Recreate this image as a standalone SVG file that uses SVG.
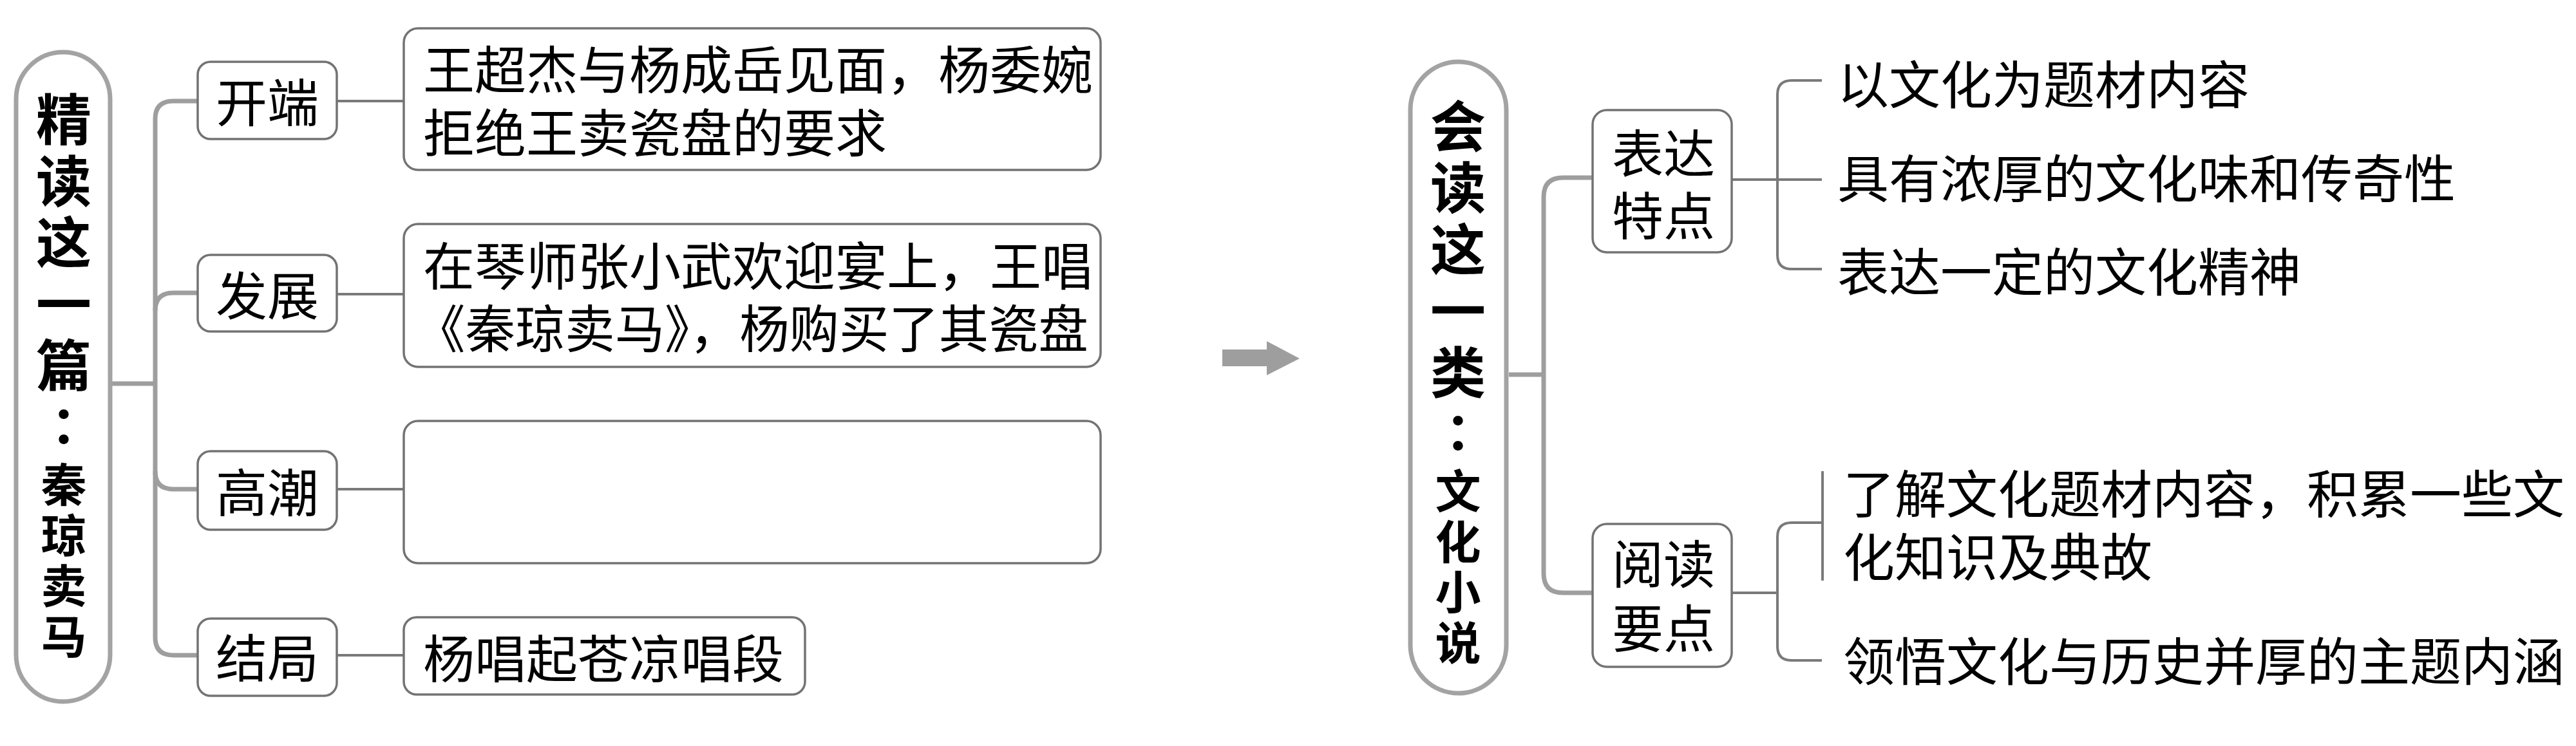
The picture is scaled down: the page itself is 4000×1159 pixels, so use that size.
<svg xmlns="http://www.w3.org/2000/svg" width="4000" height="1159" viewBox="0 0 4000 1159">
<style>
.bg{fill:#ffffff}
.pill{fill:#ffffff;stroke:#a3a3a3;stroke-width:7}
.box{fill:#ffffff;stroke:#737373;stroke-width:3.5}
.thick{fill:none;stroke:#9e9e9e;stroke-width:7}
.thin{fill:none;stroke:#7a7a7a;stroke-width:4}
.t{font-family:"Liberation Sans","Noto Sans CJK SC",sans-serif;font-size:80px;fill:#000000}
.h{font-family:"Liberation Sans","Noto Sans CJK SC",sans-serif;font-size:86px;font-weight:bold;fill:#000000;text-anchor:middle}
.hs{font-size:71px}
.hc{font-family:"Liberation Sans","Noto Sans CJK TC",sans-serif;font-size:80px}
.c{text-anchor:middle}
.arrow{fill:#9e9e9e}
</style>
<rect class="bg" x="0" y="0" width="4000" height="1159"/>

<g id="connectors">
  <path class="thick" d="M174,596 H241"/>
  <path class="thick" d="M241,185 V990"/>
  <path class="thick" d="M241,185 Q241,157 269,157 H307"/>
  <path class="thick" d="M241,483 Q241,455 269,455 H307"/>
  <path class="thick" d="M241,732 Q241,760 269,760 H307"/>
  <path class="thick" d="M241,990 Q241,1018 269,1018 H307"/>
  <path class="thin" d="M523,157 H627"/>
  <path class="thin" d="M523,457 H627"/>
  <path class="thin" d="M523,760 H627"/>
  <path class="thin" d="M523,1018 H627"/>
  <path class="thick" d="M2343,582 H2397"/>
  <path class="thick" d="M2397,306 V891"/>
  <path class="thick" d="M2397,306 Q2397,276 2427,276 H2473"/>
  <path class="thick" d="M2397,891 Q2397,921 2427,921 H2473"/>
  <path class="thin" d="M2689,279 H2829"/>
  <path class="thin" d="M2829,125 H2782 Q2760,125 2760,147 V396 Q2760,418 2782,418 H2829"/>
  <path class="thin" d="M2689,921 H2760"/>
  <path class="thin" d="M2829,812 H2782 Q2760,812 2760,834 V1004 Q2760,1026 2782,1026 H2829"/>
  <path class="thin" d="M2830,732 V902"/>
</g>

<g id="arrow">
  <polygon class="arrow" points="1898,543 1967,543 1967,530 2018,557 1967,583 1967,569 1898,569"/>
</g>

<g id="title-left">
  <rect class="pill" x="25" y="81" width="146" height="1009" rx="73" ry="73"/>
  <text class="h"><tspan x="99" y="218">精</tspan><tspan x="99" y="314">读</tspan><tspan x="99" y="409">这</tspan><tspan x="99" y="505">一</tspan><tspan x="99" y="600">篇</tspan><tspan class="hc" x="99" y="692">：</tspan><tspan class="hs" x="99" y="779">秦</tspan><tspan class="hs" x="99" y="858">琼</tspan><tspan class="hs" x="99" y="936">卖</tspan><tspan class="hs" x="99" y="1015">马</tspan></text>
</g>

<g id="node-kaiduan">
  <rect class="box" x="307" y="96" width="216" height="120" rx="20"/>
  <text class="t c" x="415" y="189">开端</text>
</g>
<g id="node-fazhan">
  <rect class="box" x="307" y="396" width="216" height="119" rx="20"/>
  <text class="t c" x="415" y="489">发展</text>
</g>
<g id="node-gaochao">
  <rect class="box" x="307" y="701" width="216" height="122" rx="20"/>
  <text class="t c" x="415" y="795">高潮</text>
</g>
<g id="node-jieju">
  <rect class="box" x="307" y="961" width="216" height="120" rx="20"/>
  <text class="t c" x="415" y="1052">结局</text>
</g>

<g id="detail-1">
  <rect class="box" x="627" y="44" width="1082" height="220" rx="22"/>
  <text class="t"><tspan x="657" y="138">王超杰与杨成岳见面，杨委婉</tspan><tspan x="657" y="236">拒绝王卖瓷盘的要求</tspan></text>
</g>
<g id="detail-2">
  <rect class="box" x="627" y="348" width="1082" height="222" rx="22"/>
  <text class="t"><tspan x="657" y="443">在琴师张小武欢迎宴上，王唱</tspan><tspan x="645" y="540" textLength="1045" lengthAdjust="spacingAndGlyphs">《秦琼卖马》，杨购买了其瓷盘</tspan></text>
</g>
<g id="detail-3">
  <rect class="box" x="627" y="654" width="1082" height="221" rx="22"/>
</g>
<g id="detail-4">
  <rect class="box" x="627" y="959" width="623" height="120" rx="20"/>
  <text class="t" x="657" y="1053">杨唱起苍凉唱段</text>
</g>

<g id="title-right">
  <rect class="pill" x="2190" y="96" width="149" height="981" rx="74.5" ry="74.5"/>
  <text class="h"><tspan x="2264" y="229">会</tspan><tspan x="2264" y="324">读</tspan><tspan x="2264" y="420">这</tspan><tspan x="2264" y="515">一</tspan><tspan x="2264" y="611">类</tspan><tspan class="hc" x="2264" y="702">：</tspan><tspan class="hs" x="2264" y="789">文</tspan><tspan class="hs" x="2264" y="868">化</tspan><tspan class="hs" x="2264" y="946">小</tspan><tspan class="hs" x="2264" y="1025">说</tspan></text>
</g>

<g id="node-biaoda">
  <rect class="box" x="2473" y="171" width="216" height="221" rx="22"/>
  <text class="t c"><tspan x="2583" y="268">表达</tspan><tspan x="2583" y="365">特点</tspan></text>
</g>
<g id="node-yuedu">
  <rect class="box" x="2473" y="814" width="216" height="222" rx="22"/>
  <text class="t c"><tspan x="2583" y="906">阅读</tspan><tspan x="2583" y="1006">要点</tspan></text>
</g>

<g id="feature-1"><text class="t" x="2853" y="161">以文化为题材内容</text></g>
<g id="feature-2"><text class="t" x="2853" y="307">具有浓厚的文化味和传奇性</text></g>
<g id="feature-3"><text class="t" x="2853" y="452">表达一定的文化精神</text></g>
<g id="point-1">
  <text class="t"><tspan x="2862" y="797">了解文化题材内容，积累一些文</tspan><tspan x="2862" y="895">化知识及典故</tspan></text>
</g>
<g id="point-2"><text class="t" x="2862" y="1057">领悟文化与历史并厚的主题内涵</text></g>
</svg>
